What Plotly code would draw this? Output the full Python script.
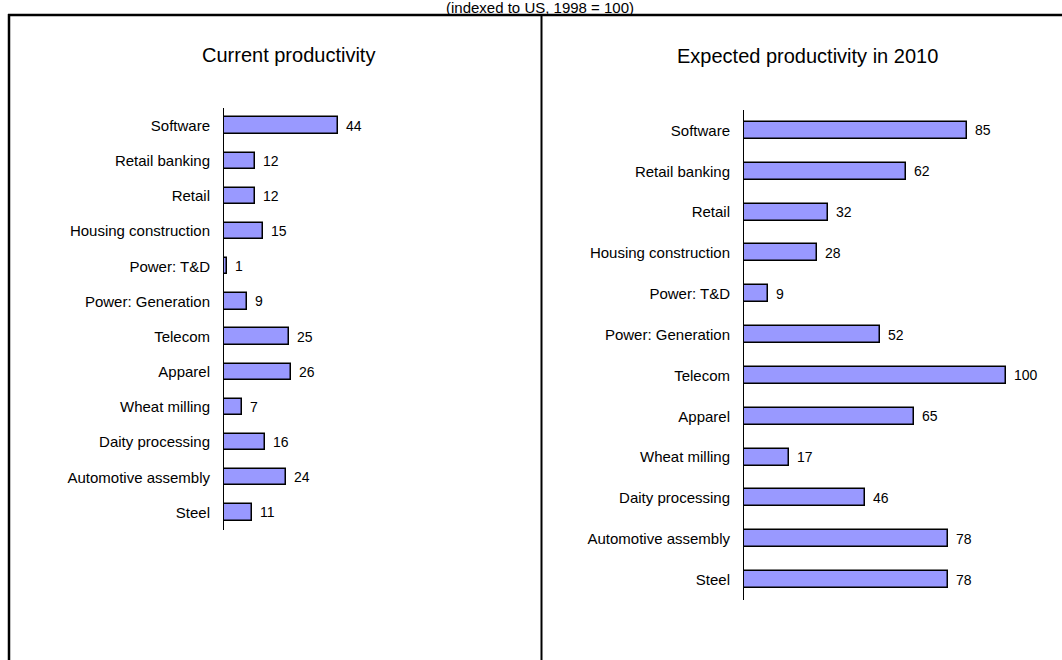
import plotly.graph_objects as go

# Sector productivity, indexed to US 1998 = 100
sectors = [
    "Software", "Retail banking", "Retail", "Housing construction",
    "Power: T&D", "Power: Generation", "Telecom", "Apparel",
    "Wheat milling", "Daity processing", "Automotive assembly", "Steel",
]
current = [44, 12, 12, 15, 1, 9, 25, 26, 7, 16, 24, 11]
expected_2010 = [85, 62, 32, 28, 9, 52, 100, 65, 17, 46, 78, 78]

W, H = 1062, 660
FONT = "Liberation Sans, Arial, sans-serif"
BAR_FILL = "#9999FF"


def px_x(p):
    return p / W


def px_y(p):
    return 1 - p / H


fig = go.Figure()

fig.add_trace(go.Bar(
    x=current, y=sectors, orientation="h", width=0.46,
    marker=dict(color=BAR_FILL, line=dict(color="black", width=1.5)),
    xaxis="x", yaxis="y", showlegend=False, hoverinfo="x+y",
))
fig.add_trace(go.Bar(
    x=expected_2010, y=sectors, orientation="h", width=0.42,
    marker=dict(color=BAR_FILL, line=dict(color="black", width=1.5)),
    xaxis="x2", yaxis="y2", showlegend=False, hoverinfo="x+y",
))

# value labels just past each bar end
annotations = []
for xa, ya, vals in (("x", "y", current), ("x2", "y2", expected_2010)):
    for s, v in zip(sectors, vals):
        annotations.append(dict(
            x=v, y=s, xref=xa, yref=ya, text=str(v), showarrow=False,
            xanchor="left", yanchor="middle", xshift=6,
            font=dict(family=FONT, size=14, color="black"),
        ))

# panel titles and subtitle
annotations += [
    dict(x=px_x(288), y=px_y(55), xref="paper", yref="paper",
         text="Current productivity", showarrow=False,
         xanchor="center", yanchor="middle",
         font=dict(family=FONT, size=20, color="black")),
    dict(x=px_x(807), y=px_y(56), xref="paper", yref="paper",
         text="Expected productivity in 2010", showarrow=False,
         xanchor="center", yanchor="middle",
         font=dict(family=FONT, size=20, color="black")),
    dict(x=px_x(540), y=px_y(7), xref="paper", yref="paper",
         text="(indexed to US, 1998 = 100)", showarrow=False,
         xanchor="center", yanchor="middle", borderpad=0,
         font=dict(family=FONT, size=15, color="black")),
]

# frame: left edge, top edge and panel divider
shapes = [
    dict(type="line", xref="paper", yref="paper",
         x0=px_x(9), x1=px_x(9), y0=px_y(14), y1=px_y(H + 5),
         line=dict(color="black", width=2.5)),
    dict(type="line", xref="paper", yref="paper",
         x0=px_x(8), x1=px_x(W + 5), y0=px_y(15), y1=px_y(15),
         line=dict(color="black", width=2.5)),
    dict(type="line", xref="paper", yref="paper",
         x0=px_x(541.5), x1=px_x(541.5), y0=px_y(15), y1=px_y(H + 5),
         line=dict(color="black", width=2)),
]

scale_left = 2.59
scale_right = 2.62
x_end_left, x_end_right = 520, 1050

yaxis_common = dict(
    type="category", autorange=False, range=[11.5, -0.5],
    showline=True, linecolor="black", linewidth=1,
    ticks="", showgrid=False, zeroline=False,
    tickfont=dict(family=FONT, size=15, color="black"),
    ticklabelstandoff=10,
)
xaxis_common = dict(
    visible=False, showgrid=False, zeroline=False, fixedrange=True,
)

fig.update_layout(
    width=W, height=H,
    margin=dict(l=0, r=0, t=0, b=0),
    paper_bgcolor="white", plot_bgcolor="white",
    bargap=0,
    xaxis=dict(xaxis_common, domain=[px_x(224), px_x(x_end_left)],
               range=[0, (x_end_left - 224) / scale_left], anchor="y"),
    yaxis=dict(yaxis_common, domain=[px_y(530), px_y(108)], anchor="x"),
    xaxis2=dict(xaxis_common, domain=[px_x(744), px_x(x_end_right)],
                range=[0, (x_end_right - 744) / scale_right], anchor="y2"),
    yaxis2=dict(yaxis_common, domain=[px_y(600), px_y(110)], anchor="x2"),
    annotations=annotations,
    shapes=shapes,
)

fig.write_html("out.html")
